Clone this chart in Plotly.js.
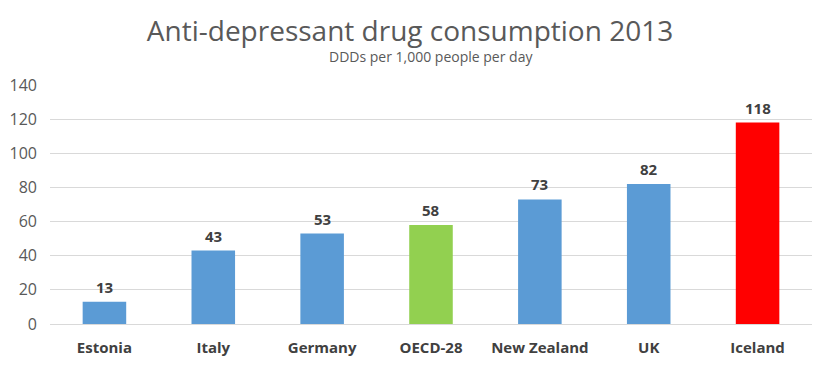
<!DOCTYPE html>
<html>
<head>
<meta charset="utf-8">
<script src="https://cdn.plot.ly/plotly-3.0.1.min.js"></script>
<style>
html,body{margin:0;padding:0;background:#fff;}
#chart{width:820px;height:366px;}
</style>
</head>
<body>
<div id="chart"></div>
<script>
const countries = ["Estonia", "Italy", "Germany", "OECD-28", "New Zealand", "UK", "Iceland"];
const consumption = [13, 43, 53, 58, 73, 82, 118];
const yTicks = [0, 20, 40, 60, 80, 100, 120, 140];
const barColors = ["#5B9BD5", "#5B9BD5", "#5B9BD5", "#92D050", "#5B9BD5", "#5B9BD5", "#FF0000"];

const FONT = "Open Sans, Liberation Sans, sans-serif";

const trace = {
  type: "bar",
  x: countries,
  y: consumption,
  marker: {color: barColors},
  hoverinfo: "x+y"
};

const dataLabels = countries.map((c, i) => ({
  x: c, y: consumption[i],
  xref: "x", yref: "y",
  text: "<b>" + consumption[i] + "</b>",
  showarrow: false,
  xanchor: "center", yanchor: "middle",
  yshift: 15,
  font: {family: FONT, size: 15, color: "#404040"}
}));

const layout = {
  width: 820,
  height: 366,
  margin: {l: 50, r: 8, t: 85, b: 42},
  paper_bgcolor: "#ffffff",
  plot_bgcolor: "#ffffff",
  showlegend: false,
  bargap: 0.6,
  title: {
    text: "Anti-depressant drug consumption 2013",
    font: {family: FONT, size: 28, color: "#595959"},
    x: 0.5, xref: "container", xanchor: "center",
    y: 1 - 31 / 366, yref: "container", yanchor: "middle"
  },
  annotations: [{
    text: "DDDs per 1,000 people per day",
    xref: "paper", yref: "paper",
    x: 0.5, y: 1 + (85 - 57) / 239,
    xanchor: "center", yanchor: "middle",
    showarrow: false,
    font: {family: FONT, size: 14, color: "#595959"}
  }].concat(dataLabels),
  xaxis: {
    type: "category",
    showgrid: false,
    zeroline: false,
    showline: false,
    ticks: "",
    ticklabelstandoff: 13,
    tickfont: {family: FONT, size: 15, color: "#404040", weight: "bold"}
  },
  yaxis: {
    range: [0, 140],
    tickvals: yTicks,
    ticktext: yTicks.map(String),
    showgrid: true,
    gridcolor: "#D9D9D9",
    gridwidth: 1,
    zeroline: true,
    zerolinecolor: "#D9D9D9",
    zerolinewidth: 1,
    showline: false,
    ticks: "",
    ticklabelstandoff: 12,
    tickfont: {family: FONT, size: 16, color: "#595959"}
  }
};

Plotly.newPlot("chart", [trace], layout, {displayModeBar: false, staticPlot: true});
</script>
</body>
</html>
